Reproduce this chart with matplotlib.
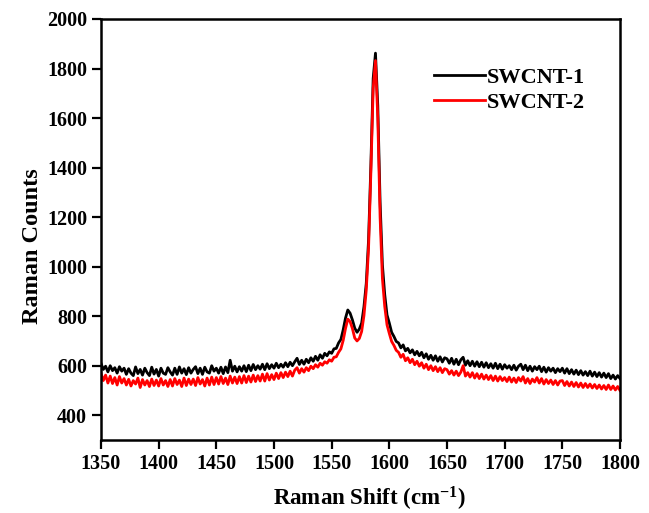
import numpy as np
import matplotlib
matplotlib.use("Agg")
import matplotlib.pyplot as plt

# Raman shift grid (cm^-1), 2 cm^-1 steps
shift = np.arange(1350, 1801, 2)

# SWCNT-1 counts (1350 ... 1800)
swcnt1 = [
    610, 585, 598, 575, 600, 580, 592, 570, 596, 578,
    590, 565, 588, 570, 560, 595, 568, 585, 562, 590,
    572, 560, 594, 566, 585, 558, 590, 570, 565, 592,
    575, 562, 590, 565, 595, 570, 588, 564, 592, 570,
    585, 596, 568, 590, 565, 594, 575, 570, 600, 578,
    590, 570, 594, 568, 595, 572, 622, 578, 598, 575,
    596, 578, 600, 576, 602, 580, 605, 584, 600, 586,
    606, 584, 608, 588, 604, 590, 610, 592, 606, 594,
    612, 596, 614, 600, 616, 630, 605, 622, 606, 626,
    612, 632, 618, 638, 622, 644, 630, 650, 640, 656,
    650, 668, 670, 692, 706, 745, 792, 825, 812, 785,
    752, 735, 748, 772, 838, 932, 1108, 1410, 1760, 1862,
    1650, 1262, 1008, 888, 805, 772, 735, 718, 698, 692,
    672, 684, 660, 670, 652, 664, 644, 658, 640, 654,
    632, 648, 626, 642, 622, 640, 618, 636, 615, 632,
    628, 610, 630, 606, 626, 604, 624, 634, 602, 620,
    600, 618, 598, 616, 596, 614, 594, 612, 592, 608,
    590, 610, 588, 606, 586, 604, 590, 600, 584, 602,
    582, 598, 606, 584, 602, 580, 598, 578, 596, 584,
    598, 576, 594, 574, 592, 578, 590, 572, 588, 576,
    590, 570, 588, 568, 584, 566, 582, 564, 580, 562,
    576, 560, 578, 558, 574, 556, 572, 554, 570, 552,
    568, 548, 562, 546, 560, 548,
]

# SWCNT-2 counts
swcnt2 = [
    570, 540, 562, 530, 558, 528, 552, 522, 556, 530,
    548, 522, 545, 518, 540, 526, 550, 512, 544, 522,
    540, 516, 546, 520, 542, 518, 548, 522, 540, 516,
    544, 518, 548, 524, 542, 516, 550, 520, 546, 524,
    546, 520, 552, 526, 544, 518, 550, 522, 554, 524,
    552, 526, 556, 528, 550, 524, 558, 530, 554, 528,
    556, 530, 560, 532, 558, 534, 562, 536, 560, 538,
    566, 538, 568, 542, 564, 544, 570, 548, 572, 552,
    574, 556, 578, 558, 582, 592, 570, 588, 574, 592,
    580, 598, 588, 604, 594, 610, 602, 616, 610, 624,
    618, 634, 636, 654, 668, 702, 750, 788, 778, 750,
    712, 700, 710, 738, 802, 905, 1075, 1380, 1720, 1832,
    1600, 1200, 952, 840, 765, 730, 698, 682, 662, 654,
    634, 646, 620, 632, 612, 626, 604, 618, 598, 612,
    590, 606, 584, 600, 580, 596, 576, 592, 572, 588,
    584, 566, 580, 562, 578, 560, 574, 600, 558, 572,
    554, 572, 550, 568, 548, 566, 546, 562, 544, 560,
    540, 558, 538, 556, 540, 552, 536, 554, 534, 550,
    532, 552, 538, 556, 530, 548, 528, 546, 534, 552,
    530, 548, 526, 544, 528, 542, 524, 540, 522, 538,
    540, 520, 536, 518, 534, 516, 532, 514, 530, 512,
    528, 512, 526, 510, 524, 508, 522, 506, 520, 504,
    522, 504, 518, 502, 516, 500,
]

xticks = [1350, 1400, 1450, 1500, 1550, 1600, 1650, 1700, 1750, 1800]
yticks = [400, 600, 800, 1000, 1200, 1400, 1600, 1800, 2000]

plt.rcParams['font.family'] = 'Liberation Serif'
plt.rcParams['font.weight'] = 'bold'
plt.rcParams['mathtext.fontset'] = 'custom'
plt.rcParams['mathtext.rm'] = 'Liberation Serif:bold'
plt.rcParams['mathtext.default'] = 'rm'

fig = plt.figure(figsize=(6.49, 5.13), dpi=100)
ax = fig.add_axes([0.1556, 0.1423, 0.7997, 0.8207])

ax.plot(shift, swcnt1, color='black', lw=2.0, label='SWCNT-1')
ax.plot(shift, swcnt2, color='#ff0000', lw=2.0, label='SWCNT-2')

ax.set_xlim(1350, 1800)
ax.set_ylim(300, 2000)
ax.set_xticks(xticks)
ax.set_yticks(yticks)
ax.tick_params(direction='out', length=6.5, width=1.6, labelsize=14.5,
               top=False, right=False)
for lab in ax.get_xticklabels() + ax.get_yticklabels():
    lab.set_fontweight('bold')
for sp in ax.spines.values():
    sp.set_linewidth(1.8)

ax.set_xlabel('Raman Shift (cm$^{-1}$)', fontsize=16.5, fontweight='bold', labelpad=8)
ax.set_ylabel('Raman Counts', fontsize=17.5, fontweight='bold', labelpad=3)
# labels sit a little off-centre in the original
ax.xaxis.label.set_x(0.518)
ax.yaxis.label.set_y(0.461)

leg = ax.legend(loc='upper left', bbox_to_anchor=(0.603, 0.932), frameon=False,
                fontsize=16, handlelength=2.3, handletextpad=0.1, labelspacing=0.18)
for t in leg.get_texts():
    t.set_fontweight('bold')

fig.savefig('out.png', dpi=100)
